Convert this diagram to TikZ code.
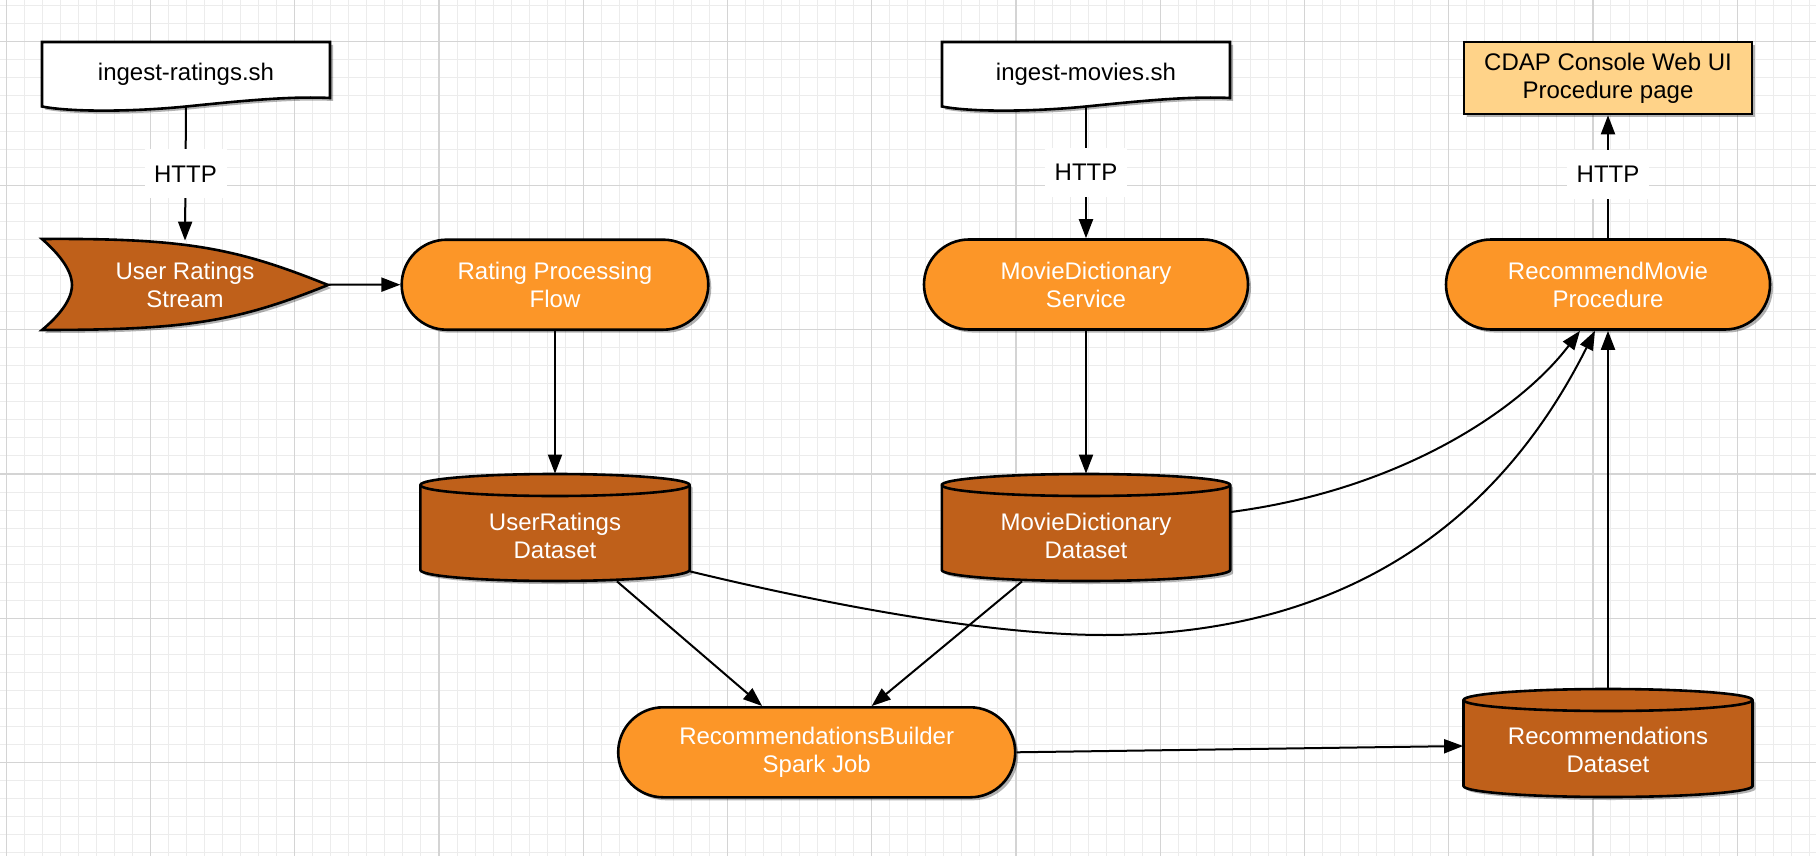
\documentclass[tikz,border=0pt]{standalone}
\usepackage{fontspec}
\setmainfont{Liberation Sans}
\usetikzlibrary{arrows.meta,shapes.misc,shadows}
\definecolor{orng}{RGB}{252,150,40}
\definecolor{dorng}{RGB}{191,96,26}
\definecolor{cdapfill}{RGB}{255,211,137}
\definecolor{gridminor}{RGB}{236,236,236}
\definecolor{gridmajor}{RGB}{212,212,212}
\tikzset{
  shad/.style={drop shadow={shadow xshift=1.5pt,shadow yshift=-1.5pt,opacity=0.3,fill=black}},
  lbl/.style={font=\fontsize{12}{14}\selectfont, align=center},
  outline/.style={draw=black, line width=1.3pt},
  proc/.style={rounded rectangle, outline, fill=orng, text=white, lbl, minimum height=45pt, inner sep=0pt, shad},
  conn/.style={draw=black, line width=1pt, -{Triangle[length=9.5pt,width=7pt]}},
  httplbl/.style={fill=white, text=black, lbl, minimum width=41pt, minimum height=24.5pt, inner sep=0pt},
  hit/.style={inner sep=0pt, draw=none},
}
\newcommand\dbcyl[5]{%
  \path[outline, fill=dorng, shad] ({#2-#5},{#3+11}) -- ({#2-#5},{#4-11})
     arc[start angle=180, end angle=360, x radius={#5*0.5pt}, y radius=5.5pt]
     -- ({#2+#5},{#3+11})
     arc[start angle=0, end angle=180, x radius={#5*0.5pt}, y radius=5.5pt] -- cycle;
  \draw[outline] ({#2-#5},{#3+11}) arc[start angle=180, end angle=360, x radius={#5*0.5pt}, y radius=5.5pt];
  \node[hit, minimum width={#5*1pt}, minimum height={(#4-#3)*0.5pt}] (#1) at ({#2},{(#3+#4)/2}) {};
}
\begin{document}
\begin{tikzpicture}[x=0.5pt,y=-0.5pt]
\useasboundingbox (0,0) rectangle (1816,856);
% grid
\foreach \i in {0,...,100} \draw[gridminor, line width=0.5pt] ({6.3+18.03*\i},0) -- ({6.3+18.03*\i},856);
\foreach \j in {0,...,47} \draw[gridminor, line width=0.5pt] (0,{5.24+18.03*\j}) -- (1816,{5.24+18.03*\j});
\foreach \k in {0,...,12} \draw[gridmajor, line width=0.6pt] ({6.3+144.24*\k},0) -- ({6.3+144.24*\k},856);
\foreach \k in {0,...,5} \draw[gridmajor, line width=0.6pt] (0,{41.3+144.24*\k}) -- (1816,{41.3+144.24*\k});

% documents
\begin{scope}[shift={(186,42)}]
\path[outline, fill=white, shad] (-144,0) -- (144,0) -- (144,56) .. controls (104,54) and (54,59) .. (0,64.5) .. controls (-56,70) and (-116,70) .. (-144,64.5) -- cycle;
\end{scope}
\node[hit, lbl, minimum width=144pt, minimum height=32.25pt] (doc1) at (186,74.25) {ingest-ratings.sh};
\begin{scope}[shift={(1086,42)}]
\path[outline, fill=white, shad] (-144,0) -- (144,0) -- (144,56) .. controls (104,54) and (54,59) .. (0,64.5) .. controls (-56,70) and (-116,70) .. (-144,64.5) -- cycle;
\end{scope}
\node[hit, lbl, minimum width=144pt, minimum height=32.25pt] (doc2) at (1086,74.25) {ingest-movies.sh};

% CDAP page
\node[outline, fill=cdapfill, lbl, minimum width=144pt, minimum height=36pt, inner sep=0pt, shad] (cdap) at (1608,78) {CDAP Console Web UI\\Procedure page};

% stream
\begin{scope}[shift={(186,285)}]
\path[outline, fill=dorng, shad] (-144,-46) .. controls (0,-47) and (50,-37) .. (142,0) .. controls (50,37) and (0,45) .. (-144,45) .. controls (-120,25) and (-114,10) .. (-114,0) .. controls (-114,-10) and (-120,-25) .. (-144,-46) -- cycle;
\end{scope}
\node[hit, lbl, text=white, minimum width=143pt, minimum height=45.5pt] (stream) at (185,284.5) {User Ratings\\Stream};

% processes
\node[proc, minimum width=153.3pt] (rpf) at (555,284.7) {Rating Processing\\Flow};
\node[proc, minimum width=162pt] (mds) at (1086,284.5) {MovieDictionary\\Service};
\node[proc, minimum width=162pt] (rmp) at (1608,284.5) {RecommendMovie\\Procedure};
\node[proc, minimum width=198.5pt] (rb) at (816.7,752.3) {RecommendationsBuilder\\Spark Job};

% datasets
\dbcyl{urd}{555}{474}{581}{134.65}
\node[lbl, text=white] (urdt) at (555,536) {UserRatings\\Dataset};
\dbcyl{mdd}{1086}{474}{581}{144.2}
\node[lbl, text=white] (mddt) at (1086,536) {MovieDictionary\\Dataset};
\dbcyl{rd}{1608}{689}{797}{144.5}
\node[lbl, text=white] (rdt) at (1608,750) {Recommendations\\Dataset};

% connectors
\draw[conn] (doc1.south) -- node[httplbl, pos=0.5] {HTTP} ([yshift=-1pt]stream.north);
\draw[conn] (doc2.south) -- node[httplbl, pos=0.5] {HTTP} (mds.north);
\draw[conn] (rmp.north) -- node[httplbl, pos=0.52] {HTTP} (cdap.south);
\draw[conn] (stream.east) -- (rpf.west);
\draw[conn] (rpf.south) -- (urd.north);
\draw[conn] (mds.south) -- (mdd.north);
\draw[conn] ([xshift=31pt]urd.south) -- ([xshift=-27.3pt]rb.north);
\draw[conn] ([xshift=-32pt]mdd.south) -- ([xshift=27.5pt]rb.north);
\draw[conn] (rb.east) -- ([yshift=-1.5pt]rd.west);
\draw[conn] (rd.north) -- (rmp.south);
\draw[conn] ([yshift=7.75pt]mdd.east) .. controls (1400,490) and (1520,410) .. ([xshift=-14pt]rmp.south);
\coordinate (wp) at (1104,635);
\draw[conn] ([yshift=5pt]urd.south east) .. controls (850,610) and (1000,635) .. (wp) .. controls (1300,635) and (1480,560) .. ([xshift=-6.5pt]rmp.south);
\end{tikzpicture}
\end{document}
